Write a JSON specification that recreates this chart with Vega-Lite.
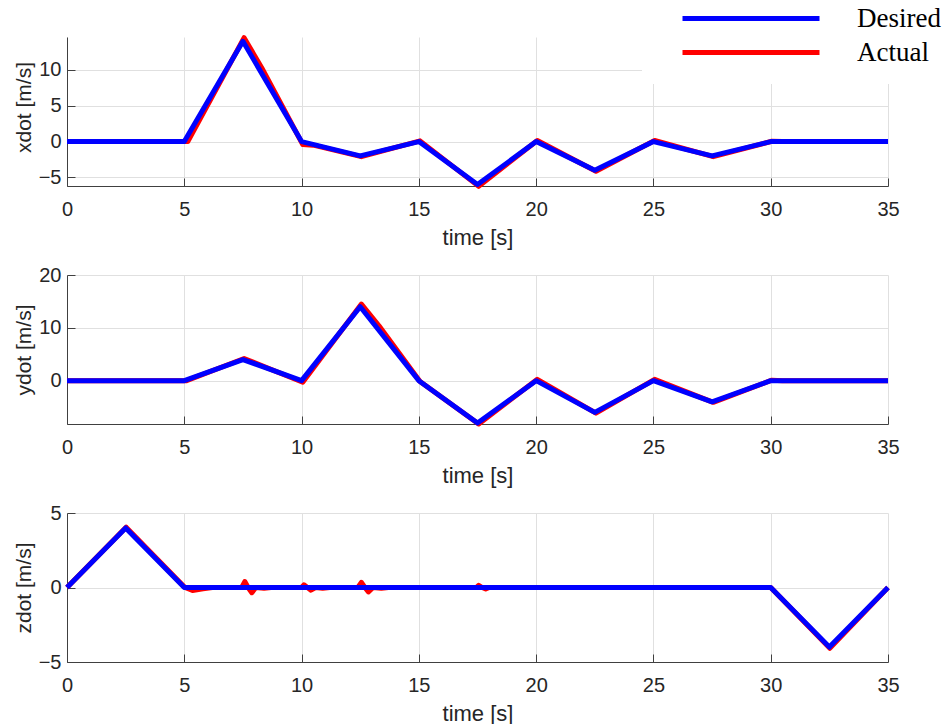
{
  "$schema": "https://vega.github.io/schema/vega-lite/v6.json",
  "autosize": {"type": "pad"},
  "padding": {"left": 13, "top": 0, "right": 0, "bottom": 0},
  "background": "white",
  "config": {
    "view": {"stroke": null},
    "font": "Liberation Sans",
    "axis": {
      "domainColor": "#404040",
      "tickColor": "#404040",
      "tickSize": -8,
      "labelFont": "Liberation Sans",
      "labelFontSize": 20,
      "labelColor": "#262626",
      "labelFlush": false,
      "labelOverlap": false,
      "titleFont": "Liberation Sans",
      "titleFontSize": 21,
      "titleFontWeight": "normal",
      "titleColor": "#262626",
      "gridColor": "#e0e0e0",
      "gridWidth": 1
    },
    "axisX": {"labelPadding": 21, "titleBaseline": "alphabetic", "titleY": 58, "titleFontSize": 22},
    "axisY": {"labelPadding": 14, "titleBaseline": "alphabetic", "titleX": -37, "titleAngle": 270}
  },
  "datasets": {
    "xdot": [
      {"t": 0, "v": 0, "series": "Desired"},
      {"t": 5, "v": 0, "series": "Desired"},
      {"t": 7.5, "v": 14, "series": "Desired"},
      {"t": 10, "v": 0, "series": "Desired"},
      {"t": 12.5, "v": -2, "series": "Desired"},
      {"t": 15, "v": 0, "series": "Desired"},
      {"t": 17.5, "v": -6, "series": "Desired"},
      {"t": 20, "v": 0, "series": "Desired"},
      {"t": 22.5, "v": -4, "series": "Desired"},
      {"t": 25, "v": 0, "series": "Desired"},
      {"t": 27.5, "v": -2, "series": "Desired"},
      {"t": 30, "v": 0, "series": "Desired"},
      {"t": 35, "v": 0, "series": "Desired"},
      {"t": 0, "v": 0, "series": "Actual"},
      {"t": 5.15, "v": 0, "series": "Actual"},
      {"t": 7.55, "v": 14.5, "series": "Actual"},
      {"t": 8.3, "v": 10.3, "series": "Actual"},
      {"t": 10.05, "v": -0.4, "series": "Actual"},
      {"t": 10.5, "v": -0.5, "series": "Actual"},
      {"t": 12.55, "v": -2.1, "series": "Actual"},
      {"t": 15.05, "v": 0.1, "series": "Actual"},
      {"t": 17.55, "v": -6.25, "series": "Actual"},
      {"t": 20.05, "v": 0.15, "series": "Actual"},
      {"t": 22.55, "v": -4.15, "series": "Actual"},
      {"t": 25.05, "v": 0.15, "series": "Actual"},
      {"t": 27.55, "v": -2.1, "series": "Actual"},
      {"t": 30.05, "v": 0.05, "series": "Actual"},
      {"t": 30.5, "v": 0, "series": "Actual"},
      {"t": 35, "v": 0, "series": "Actual"}
    ],
    "ydot": [
      {"t": 0, "v": 0, "series": "Desired"},
      {"t": 5, "v": 0, "series": "Desired"},
      {"t": 7.5, "v": 4, "series": "Desired"},
      {"t": 10, "v": 0, "series": "Desired"},
      {"t": 12.5, "v": 14, "series": "Desired"},
      {"t": 15, "v": 0, "series": "Desired"},
      {"t": 17.5, "v": -8, "series": "Desired"},
      {"t": 20, "v": 0, "series": "Desired"},
      {"t": 22.5, "v": -6, "series": "Desired"},
      {"t": 25, "v": 0, "series": "Desired"},
      {"t": 27.5, "v": -4, "series": "Desired"},
      {"t": 30, "v": 0, "series": "Desired"},
      {"t": 35, "v": 0, "series": "Desired"},
      {"t": 0, "v": 0, "series": "Actual"},
      {"t": 5.1, "v": 0, "series": "Actual"},
      {"t": 7.55, "v": 4.2, "series": "Actual"},
      {"t": 10.05, "v": -0.3, "series": "Actual"},
      {"t": 12.55, "v": 14.5, "series": "Actual"},
      {"t": 13.3, "v": 10.4, "series": "Actual"},
      {"t": 15.05, "v": -0.15, "series": "Actual"},
      {"t": 17.55, "v": -8.2, "series": "Actual"},
      {"t": 20.05, "v": 0.25, "series": "Actual"},
      {"t": 22.55, "v": -6.15, "series": "Actual"},
      {"t": 25.05, "v": 0.25, "series": "Actual"},
      {"t": 27.55, "v": -4.1, "series": "Actual"},
      {"t": 30.05, "v": 0.1, "series": "Actual"},
      {"t": 30.5, "v": 0, "series": "Actual"},
      {"t": 35, "v": 0, "series": "Actual"}
    ],
    "zdot": [
      {"t": 0, "v": 0, "series": "Desired"},
      {"t": 2.5, "v": 4, "series": "Desired"},
      {"t": 5, "v": 0, "series": "Desired"},
      {"t": 30, "v": 0, "series": "Desired"},
      {"t": 32.5, "v": -4, "series": "Desired"},
      {"t": 35, "v": 0, "series": "Desired"},
      {"t": 0, "v": 0, "series": "Actual"},
      {"t": 2.52, "v": 4.05, "series": "Actual"},
      {"t": 5.03, "v": 0, "series": "Actual"},
      {"t": 5.35, "v": -0.2, "series": "Actual"},
      {"t": 5.8, "v": -0.08, "series": "Actual"},
      {"t": 6.2, "v": 0, "series": "Actual"},
      {"t": 7.45, "v": 0, "series": "Actual"},
      {"t": 7.58, "v": 0.4, "series": "Actual"},
      {"t": 7.72, "v": 0, "series": "Actual"},
      {"t": 7.88, "v": -0.35, "series": "Actual"},
      {"t": 8.05, "v": 0, "series": "Actual"},
      {"t": 8.4, "v": -0.05, "series": "Actual"},
      {"t": 8.7, "v": 0, "series": "Actual"},
      {"t": 10.0, "v": 0, "series": "Actual"},
      {"t": 10.1, "v": 0.18, "series": "Actual"},
      {"t": 10.25, "v": 0, "series": "Actual"},
      {"t": 10.4, "v": -0.18, "series": "Actual"},
      {"t": 10.6, "v": 0, "series": "Actual"},
      {"t": 10.9, "v": -0.05, "series": "Actual"},
      {"t": 11.2, "v": 0, "series": "Actual"},
      {"t": 12.4, "v": 0, "series": "Actual"},
      {"t": 12.55, "v": 0.35, "series": "Actual"},
      {"t": 12.7, "v": 0, "series": "Actual"},
      {"t": 12.85, "v": -0.3, "series": "Actual"},
      {"t": 13.05, "v": 0, "series": "Actual"},
      {"t": 13.4, "v": -0.05, "series": "Actual"},
      {"t": 13.7, "v": 0, "series": "Actual"},
      {"t": 17.45, "v": 0, "series": "Actual"},
      {"t": 17.55, "v": 0.15, "series": "Actual"},
      {"t": 17.7, "v": 0, "series": "Actual"},
      {"t": 17.85, "v": -0.1, "series": "Actual"},
      {"t": 18.0, "v": 0, "series": "Actual"},
      {"t": 30, "v": 0, "series": "Actual"},
      {"t": 32.52, "v": -4.08, "series": "Actual"},
      {"t": 35, "v": 0, "series": "Actual"}
    ]
  },
  "bounds": "flush",
  "spacing": 89,
  "vconcat": [
    {
      "width": 821,
      "height": 149,
      "data": {"name": "xdot"},
      "encoding": {
        "x": {"field": "t", "type": "quantitative", "scale": {"domain": [0, 35], "nice": false, "zero": false},
              "axis": {"values": [0, 5, 10, 15, 20, 25, 30, 35], "title": "time [s]"}},
        "y": {"field": "v", "type": "quantitative", "scale": {"domain": [-6.2, 14.6], "nice": false, "zero": false},
              "axis": {"values": [-5, 0, 5, 10], "title": "xdot [m/s]", "titleY": 70}},
        "color": {"field": "series", "type": "nominal",
                  "scale": {"domain": ["Desired", "Actual"], "range": ["#0000ff", "#ff0000"]},
                  "legend": {
                    "orient": "none", "legendX": 575, "legendY": -37,
                    "title": " ", "titleOrient": "bottom", "titleFontSize": 7, "titlePadding": 6,
                    "symbolType": "stroke", "symbolSize": 18769, "symbolStrokeWidth": 5,
                    "symbolOffset": 33, "labelOffset": 35, "clipHeight": 27, "rowPadding": 6,
                    "labelFont": "Liberation Serif", "labelFontSize": 27, "labelColor": "#000000",
                    "fillColor": "white", "padding": 5, "strokeColor": null
                  }}
      },
      "layer": [
        {"transform": [{"filter": "datum.series === 'Actual'"}],
         "mark": {"type": "line", "strokeWidth": 5, "strokeJoin": "round"}},
        {"transform": [{"filter": "datum.series === 'Desired'"}],
         "mark": {"type": "line", "strokeWidth": 5, "strokeJoin": "round"}}
      ]
    },
    {
      "width": 821,
      "height": 149,
      "data": {"name": "ydot"},
      "encoding": {
        "x": {"field": "t", "type": "quantitative", "scale": {"domain": [0, 35], "nice": false, "zero": false},
              "axis": {"values": [0, 5, 10, 15, 20, 25, 30, 35], "title": "time [s]"}},
        "y": {"field": "v", "type": "quantitative", "scale": {"domain": [-8.2, 20], "nice": false, "zero": false},
              "axis": {"values": [0, 10, 20], "title": "ydot [m/s]"}},
        "color": {"field": "series", "type": "nominal"}
      },
      "layer": [
        {"transform": [{"filter": "datum.series === 'Actual'"}],
         "mark": {"type": "line", "strokeWidth": 5, "strokeJoin": "round"}},
        {"transform": [{"filter": "datum.series === 'Desired'"}],
         "mark": {"type": "line", "strokeWidth": 5, "strokeJoin": "round"}}
      ]
    },
    {
      "width": 821,
      "height": 149,
      "data": {"name": "zdot"},
      "encoding": {
        "x": {"field": "t", "type": "quantitative", "scale": {"domain": [0, 35], "nice": false, "zero": false},
              "axis": {"values": [0, 5, 10, 15, 20, 25, 30, 35], "title": "time [s]"}},
        "y": {"field": "v", "type": "quantitative", "scale": {"domain": [-5, 5], "nice": false, "zero": false},
              "axis": {"values": [-5, 0, 5], "title": "zdot [m/s]"}},
        "color": {"field": "series", "type": "nominal"}
      },
      "layer": [
        {"transform": [{"filter": "datum.series === 'Actual'"}],
         "mark": {"type": "line", "strokeWidth": 5, "strokeJoin": "round"}},
        {"transform": [{"filter": "datum.series === 'Desired'"}],
         "mark": {"type": "line", "strokeWidth": 5, "strokeJoin": "round"}}
      ]
    }
  ]
}
